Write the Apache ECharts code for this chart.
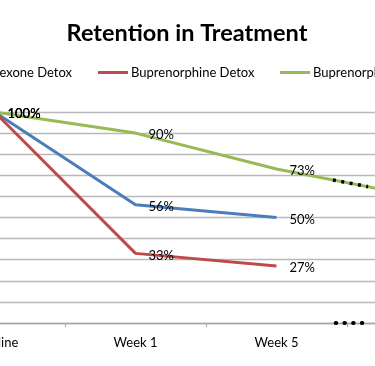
<!DOCTYPE html>
<html>
<head>
<meta charset="utf-8">
<script src="https://cdn.jsdelivr.net/npm/echarts@6/dist/echarts.min.js"></script>
<style>
html,body{margin:0;padding:0;width:375px;height:366px;overflow:hidden;background:#fff;position:relative;}
#c{position:absolute;left:-153px;top:0;width:680px;height:366px;}
</style>
</head>
<body>
<div id="c"></div>
<script>
// Data
const categories = ['Baseline', 'Week 1', 'Week 5', 'Week 12'];
const naltrexoneDetox = [100, 56, 50, null];
const buprenorphineDetox = [100, 33, 27, null];
const buprenorphineMaint = [100, 90, 73, 60];
const seriesNames = ['Naltrexone Detox', 'Buprenorphine Detox', 'Buprenorphine Maintenance'];
// break markers (positions in category-index units, values in %)
const breakOnLineX = [2.40, 2.65];
const breakOnLineY = [67.8, 64.6];
const breakOnAxisX = [2.42, 2.62];
const breakOnAxisY = [0, 0];
const yTicks = [0, 100, 10];

const FONT = 'Lato';
const OFFSET = 153; // container shift
const chart = echarts.init(document.getElementById('c'), null, {renderer: 'canvas'});

const labelCfg = {
  show: true, position: 'right', distance: 13, offset: [0, 2],
  formatter: p => p.value == null ? '' : p.value + '%',
  color: '#000', fontFamily: FONT, fontSize: 13
};

function lineSeries(name, data, color) {
  return {
    name, type: 'line', data, xAxisIndex: 0,
    symbol: 'circle', symbolSize: 0.01,
    itemStyle: {color},
    lineStyle: {color, width: 3},
    label: labelCfg,
    z: 2
  };
}

const legendBase = {
  top: 66, padding: 0,
  icon: 'rect', itemWidth: 30, itemHeight: 3,
  textStyle: {fontFamily: FONT, fontSize: 13, color: '#000', padding: [0, 0, 0, -2]}
};

chart.setOption({
  animation: false,
  title: {
    text: 'Retention in Treatment',
    left: 'center', top: 16,
    textStyle: {fontFamily: FONT, fontWeight: 'bold', fontSize: 23.5, color: '#000'}
  },
  legend: [
    Object.assign({}, legendBase, {data: [seriesNames[0]], right: 680 - (72 + OFFSET)}),
    Object.assign({}, legendBase, {data: [seriesNames[1]], left: 98 + OFFSET}),
    Object.assign({}, legendBase, {data: [seriesNames[2]], left: 280 + OFFSET})
  ],
  grid: {left: 77, right: 39, top: 112, bottom: 43, containLabel: false},
  xAxis: [{
    type: 'category', data: categories, boundaryGap: true,
    axisLine: {lineStyle: {color: '#a6a6a6', width: 1.3}},
    axisTick: {show: true, length: 4, lineStyle: {color: '#a6a6a6'}},
    axisLabel: {fontFamily: FONT, fontSize: 13, color: '#000', margin: 13}
  }, {
    type: 'value', min: -0.5, max: 3.5, show: false
  }],
  yAxis: {
    type: 'value', min: yTicks[0], max: yTicks[1], interval: yTicks[2],
    axisLabel: {show: false}, axisLine: {show: false}, axisTick: {show: false},
    splitLine: {lineStyle: {color: '#b8b8b8', width: 1.3}}
  },
  series: [
    lineSeries(seriesNames[0], naltrexoneDetox, '#4a7ebb'),
    lineSeries(seriesNames[1], buprenorphineDetox, '#be4b48'),
    lineSeries(seriesNames[2], buprenorphineMaint, '#98b954'),
    {
      type: 'line', xAxisIndex: 1, symbol: 'none', silent: true,
      data: breakOnLineX.map((x, i) => [x, breakOnLineY[i]]),
      lineStyle: {color: '#000', width: 3.5, type: [3, 5.5], cap: 'butt'}, z: 5
    },
    {
      type: 'line', xAxisIndex: 1, symbol: 'none', silent: true,
      data: breakOnAxisX.map((x, i) => [x, breakOnAxisY[i]]),
      lineStyle: {color: '#000', width: 4, type: [0.5, 8.2], cap: 'round'}, z: 5
    }
  ]
});
</script>
</body>
</html>
